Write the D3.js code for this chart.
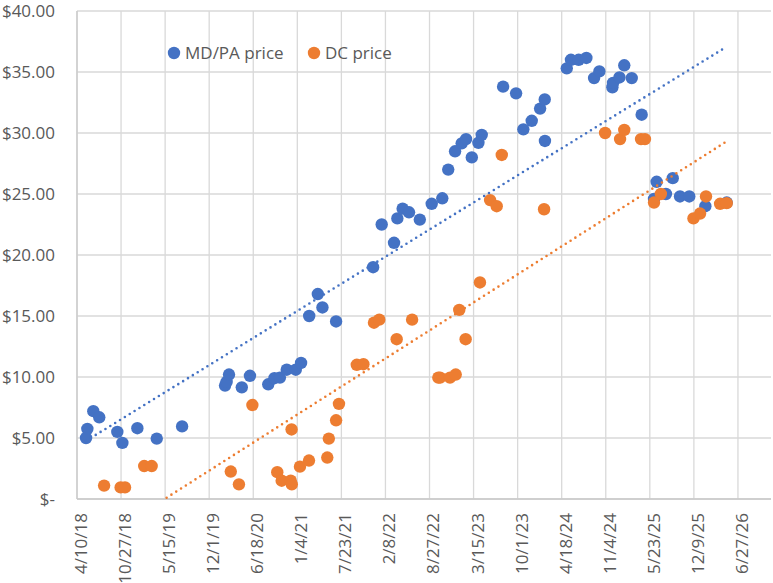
<!DOCTYPE html>
<html>
<head>
<meta charset="utf-8">
<script src="https://cdn.jsdelivr.net/npm/d3@7"></script>
<style>
  body { margin: 0; background: #fff; }
  text { font-family: "Open Sans", "Noto Sans", sans-serif; fill: #595959; }
</style>
</head>
<body>
<div id="chart"></div>
<script>
// tick labels
var xTickLabels = ["4/10/18", "10/27/18", "5/15/19", "12/1/19", "6/18/20", "1/4/21", "7/23/21", "2/8/22",
  "8/27/22", "3/15/23", "10/1/23", "4/18/24", "11/4/24", "5/23/25", "12/9/25", "6/27/26"];
var yTicks = [0, 5, 10, 15, 20, 25, 30, 35, 40];

// series names
var seriesNames = ["MD/PA price", "DC price"];

// MD/PA price
var mdpaDates = ["5/21/18", "5/27/18", "6/23/18", "7/20/18", "10/10/18", "11/2/18", "1/9/19", "4/7/19", "7/31/19",
  "2/11/20", "2/18/20", "2/29/20", "4/27/20", "6/3/20", "8/25/20", "9/22/20", "10/17/20", "11/17/20", "12/28/20",
  "1/21/21", "2/27/21", "4/7/21", "4/28/21", "6/29/21", "12/14/21", "1/22/22", "3/19/22", "4/3/22", "4/27/22",
  "5/26/22", "7/14/22", "9/6/22", "10/24/22", "11/20/22", "12/21/22", "1/20/23", "2/9/23", "3/7/23", "4/6/23",
  "4/21/23", "7/27/23", "9/24/23", "10/27/23", "12/4/23", "1/11/24", "2/1/24", "2/2/24", "5/11/24", "5/30/24",
  "7/4/24", "8/8/24", "9/12/24", "10/6/24", "12/4/24", "12/7/24", "1/5/25", "1/27/25", "3/2/25", "4/16/25",
  "6/11/25", "6/23/25", "8/4/25", "9/4/25", "10/7/25", "11/18/25", "1/30/26", "5/7/26"];
var mdpaPrices = [5.0, 5.75, 7.2, 6.7, 5.5, 4.6, 5.8, 4.95, 5.95,
  9.3, 9.6, 10.2, 9.15, 10.1, 9.4, 9.9, 9.95, 10.6, 10.6,
  11.15, 15.0, 16.8, 15.7, 14.55, 19.0, 22.5, 21.0, 23.0, 23.8,
  23.5, 22.9, 24.2, 24.65, 27.0, 28.5, 29.15, 29.5, 28.0, 29.2,
  29.85, 33.8, 33.25, 30.3, 31.0, 32.0, 32.75, 29.35, 35.3, 36.0,
  36.0, 36.15, 34.5, 35.05, 33.75, 34.1, 34.55, 35.55, 34.5, 31.5,
  24.6, 26.0, 25.0, 26.3, 24.8, 24.8, 24.0, 24.3];

// DC price
var dcDates = ["8/11/18", "10/25/18", "11/14/18", "2/9/19", "3/15/19", "3/8/20", "4/14/20", "6/14/20", "10/5/20",
  "10/25/20", "12/5/20", "12/10/20", "12/9/20", "1/16/21", "2/26/21", "5/20/21", "5/27/21", "6/29/21", "7/12/21",
  "10/1/21", "10/31/21", "12/18/21", "1/11/22", "3/31/22", "6/9/22", "10/6/22", "10/14/22", "11/28/22", "12/24/22",
  "1/9/23", "2/7/23", "4/13/23", "5/29/23", "6/28/23", "7/21/23", "1/29/24", "11/1/24", "1/8/25", "1/27/25",
  "4/13/25", "5/1/25", "6/11/25", "7/12/25", "12/7/25", "1/6/26", "2/2/26", "4/7/26", "5/7/26"];
var dcPrices = [1.1, 0.95, 0.95, 2.7, 2.7, 2.25, 1.2, 7.7, 2.2,
  1.5, 1.5, 1.2, 5.7, 2.65, 3.15, 3.4, 4.95, 6.45, 7.8,
  11.0, 11.05, 14.45, 14.7, 13.1, 14.7, 9.95, 9.95, 9.95, 10.2,
  15.5, 13.1, 17.75, 24.5, 24.0, 28.2, 23.75, 30.0, 29.5, 30.25,
  29.5, 29.5, 24.3, 25.0, 23.0, 23.4, 24.8, 24.2, 24.25];

var colors = ["#4472C4", "#ED7D31"];

var parseDate = d3.utcParse("%m/%d/%y");
var DAY = 86400000;

// dimensions and margins
var W = 773, H = 583;
var margin = { top: 11, right: 2, bottom: 84, left: 77 },
    width = W - margin.left - margin.right,
    height = H - margin.top - margin.bottom;

var svg = d3.select("#chart")
    .append("svg")
    .attr("width", W)
    .attr("height", H)
    .append("g")
    .attr("transform", "translate(" + margin.left + "," + margin.top + ")");

var xTicks = xTickLabels.map(parseDate);
var xMin = xTicks[0];
var xMax = new Date(xMin.getTime() + 3150 * DAY);

var x = d3.scaleUtc().domain([xMin, xMax]).range([0, width]);
var y = d3.scaleLinear().domain([0, 40]).range([height, 0]);

// gridlines
svg.append("g")
    .selectAll("line.h")
    .data(yTicks)
    .enter().append("line")
    .attr("x1", 0).attr("x2", width)
    .attr("y1", function (d) { return y(d); })
    .attr("y2", function (d) { return y(d); })
    .attr("stroke", "#d9d9d9")
    .attr("stroke-width", 1.3);

svg.append("g")
    .selectAll("line.v")
    .data(xTicks)
    .enter().append("line")
    .attr("x1", function (d) { return x(d); })
    .attr("x2", function (d) { return x(d); })
    .attr("y1", 0).attr("y2", height)
    .attr("stroke", "#d9d9d9")
    .attr("stroke-width", 1.3);

// axis lines
svg.append("line").attr("x1", 0).attr("x2", width).attr("y1", height).attr("y2", height)
    .attr("stroke", "#c9c9c9").attr("stroke-width", 1.3);
svg.append("line").attr("x1", 0).attr("x2", 0).attr("y1", 0).attr("y2", height)
    .attr("stroke", "#c9c9c9").attr("stroke-width", 1.3);

// Y axis labels
var yAxis = d3.axisLeft(y)
    .tickValues(yTicks)
    .tickSize(0)
    .tickPadding(22)
    .tickFormat(function (d) { return d === 0 ? "$-" : "$" + d.toFixed(2); });
svg.append("g").call(yAxis)
    .call(function (g) { g.select(".domain").remove(); })
    .selectAll("text")
    .attr("font-size", "17px")
    .attr("font-family", null)
    .attr("fill", null);

// X axis labels, rotated
var xAxis = d3.axisBottom(x)
    .tickValues(xTicks)
    .tickSize(0)
    .tickFormat(function (d, i) { return xTickLabels[i]; });
svg.append("g")
    .attr("transform", "translate(0," + height + ")")
    .call(xAxis)
    .call(function (g) { g.select(".domain").remove(); })
    .selectAll("text")
    .attr("font-size", "17px")
    .attr("font-family", null)
    .attr("fill", null)
    .attr("text-anchor", "end")
    .attr("transform", "translate(4,14) rotate(-90)")
    .attr("x", 0).attr("y", 0).attr("dy", "0.32em");

var series = [
  { name: seriesNames[0], color: colors[0], pts: mdpaDates.map(function (d, i) { return { date: parseDate(d), v: mdpaPrices[i] }; }) },
  { name: seriesNames[1], color: colors[1], pts: dcDates.map(function (d, i) { return { date: parseDate(d), v: dcPrices[i] }; }) }
];

// clip for trendlines
svg.append("clipPath").attr("id", "plotclip")
    .append("rect").attr("width", width).attr("height", height);

// markers
series.forEach(function (s) {
  svg.append("g")
      .selectAll("circle")
      .data(s.pts)
      .enter().append("circle")
      .attr("cx", function (d) { return x(d.date); })
      .attr("cy", function (d) { return y(d.v); })
      .attr("r", 6.2)
      .attr("fill", s.color);
});

// linear trendlines (least squares)
series.forEach(function (s) {
  var xs = s.pts.map(function (d) { return d.date.getTime() / DAY; });
  var ys = s.pts.map(function (d) { return d.v; });
  var mx = d3.mean(xs), my = d3.mean(ys);
  var num = 0, den = 0;
  xs.forEach(function (xv, i) { num += (xv - mx) * (ys[i] - my); den += (xv - mx) * (xv - mx); });
  var slope = num / den, icpt = my - slope * mx;
  var ext = d3.extent(xs);
  var line = ext.map(function (t) { return [x(new Date(t * DAY)), y(icpt + slope * t)]; });
  svg.append("path")
      .attr("clip-path", "url(#plotclip)")
      .attr("d", d3.line()(line))
      .attr("fill", "none")
      .attr("stroke", s.color)
      .attr("stroke-width", 2.6)
      .attr("stroke-linecap", "round")
      .attr("stroke-dasharray", "0 5.7");
});

// legend
var legend = svg.append("g").attr("transform", "translate(" + (174 - margin.left) + "," + (53 - margin.top) + ")");
var legendX = [0, 140];
series.forEach(function (s, i) {
  var g = legend.append("g").attr("transform", "translate(" + legendX[i] + ",0)");
  g.append("circle").attr("r", 6.2).attr("fill", s.color);
  g.append("text").attr("x", 11).attr("dy", "0.35em").attr("font-size", "17px").text(s.name);
});
</script>
</body>
</html>
